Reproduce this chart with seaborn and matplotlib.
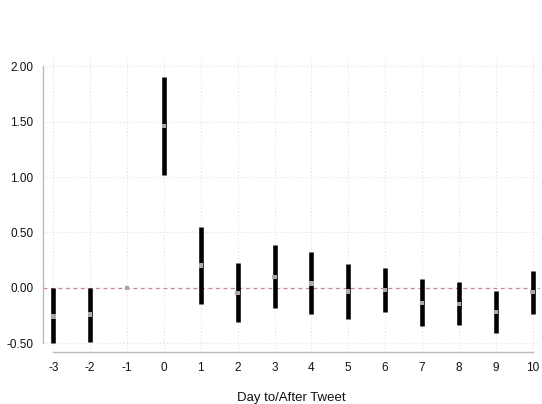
import matplotlib
matplotlib.use("Agg")
import matplotlib.pyplot as plt
import seaborn as sns
import pandas as pd
import numpy as np

days = [-3, -2, -1, 0, 1, 2, 3, 4, 5, 6, 7, 8, 9, 10]
coef = [-0.26, -0.24, 0.00, 1.46, 0.20, -0.045, 0.10, 0.04, -0.035, -0.02, -0.135, -0.147, -0.22, -0.04]
ci_low = [-0.50, -0.49, 0.00, 1.02, -0.15, -0.31, -0.18, -0.24, -0.286, -0.22, -0.345, -0.34, -0.41, -0.24]
ci_high = [0.00, 0.00, 0.00, 1.90, 0.55, 0.22, 0.386, 0.325, 0.217, 0.18, 0.08, 0.05, -0.03, 0.15]
yticks = [-0.5, 0.0, 0.5, 1.0, 1.5, 2.0]

df = pd.DataFrame({"day": days, "coef": coef, "lo": ci_low, "hi": ci_high})

sns.set_style("white")
plt.rcParams["font.family"] = ["Liberation Sans", "DejaVu Sans"]

fig = plt.figure(figsize=(5.42, 4.04), dpi=100)
ax = fig.add_axes([0.0793, 0.1287, 0.917, 0.7277])

# grid
for d in days:
    ax.axvline(d, color="#e2e2e2", linestyle=(0, (1, 2)), linewidth=0.8, zorder=0)
for yv in yticks:
    ax.axhline(yv, color="#e2e2e2", linestyle=(0, (1, 2)), linewidth=0.8, zorder=0)

ax.axhline(0, color="#d0809a", linestyle=(0, (3, 3)), linewidth=0.9, zorder=1)

bars = df[df["hi"] > df["lo"]]
ax.vlines(bars["day"], bars["lo"], bars["hi"], color="black", linewidth=3.3, zorder=2)
sns.scatterplot(data=df, x="day", y="coef", ax=ax, marker="s", s=10, color="#a8a8a8",
                edgecolor="none", zorder=3, legend=False)

ax.set_xlim(-3.28, 10.2)
ax.set_ylim(-0.58, 2.075)
ax.set_xticks(days)
ax.set_xticklabels([str(d) for d in days])
ax.set_yticks(yticks)
ax.set_yticklabels([f"{v:.2f}" for v in yticks])

for s in ["top", "right"]:
    ax.spines[s].set_visible(False)
for s in ["left", "bottom"]:
    ax.spines[s].set_color("#bbbbbb")
    ax.spines[s].set_linewidth(1.0)
ax.spines["left"].set_bounds(-0.5, 2.0)
ax.spines["bottom"].set_bounds(-3, 10)

ax.tick_params(axis="both", direction="out", length=4, width=0.8, color="#bbbbbb",
               labelsize=8.5, labelcolor="#111111", pad=3)
ax.tick_params(axis="x", pad=3)

ax.set_xlabel("Day to/After Tweet", fontsize=9.5, labelpad=13, color="#111111")
ax.set_ylabel("")

fig.savefig("out.png", dpi=100)
